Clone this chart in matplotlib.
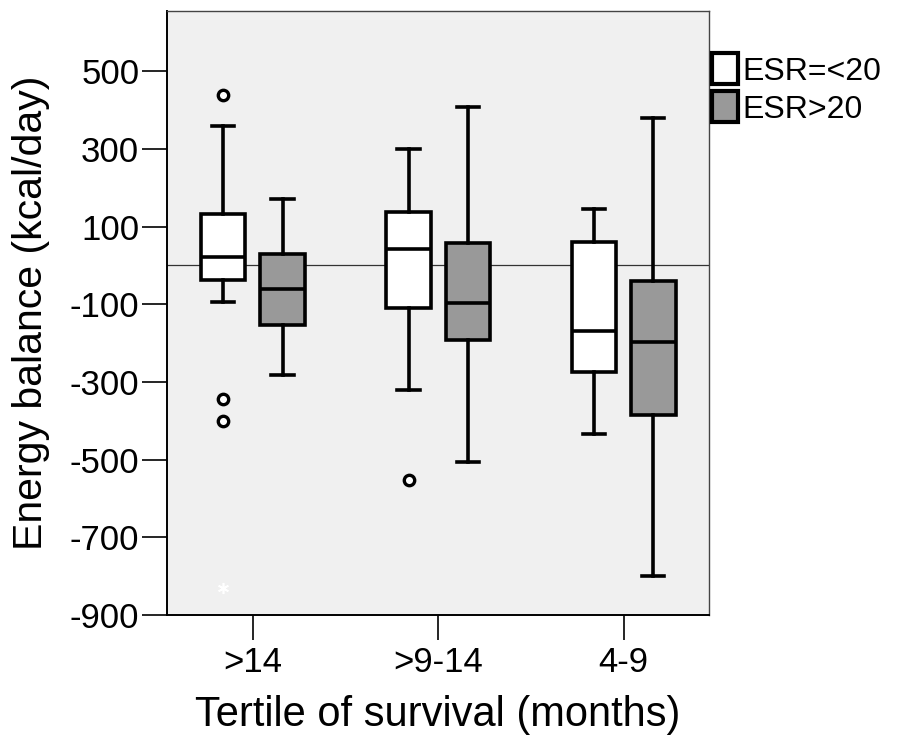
import matplotlib.pyplot as plt
import numpy as np

plt.rcParams['font.family'] = ['Liberation Sans', 'DejaVu Sans']
plt.rcParams['axes.unicode_minus'] = False

# data (kcal/day)
groups = [">14", ">9-14", "4-9"]
series = ["ESR=<20", "ESR>20"]

# five-number summaries: whislo, q1, med, q3, whishi
low_esr = [
    [-95, -37, 21, 132, 358],
    [-321, -109, 41, 137, 299],
    [-435, -274, -169, 59, 144],
]
high_esr = [
    [-283, -153, -61, 30, 172],
    [-506, -192, -97, 57, 408],
    [-800, -385, -198, -41, 380],
]
low_outliers = [[440, -343, -400], [-553], []]
high_outliers = [[], [], []]
extreme_low = [[-831], [], []]  # the faint white star

colors = ["white", "#999999"]
offset = 0.16
width = 0.24


def make_stats(rows, fliers):
    out = []
    for r, f in zip(rows, fliers):
        out.append(dict(whislo=r[0], q1=r[1], med=r[2], q3=r[3], whishi=r[4], fliers=f))
    return out


fig = plt.figure(figsize=(8.99, 7.38), dpi=100)
ax = fig.add_axes([0.1858, 0.1667, 0.6028, 0.8184])
ax.set_facecolor("#f0f0f0")

x = np.arange(len(groups))
lw = 2.6
for i, (rows, fl) in enumerate([(low_esr, low_outliers), (high_esr, high_outliers)]):
    pos = x + (i * 2 - 1) * offset
    ax.bxp(make_stats(rows, fl), positions=pos, widths=width, patch_artist=True,
           capwidths=width * 0.5,
           boxprops=dict(facecolor=colors[i], edgecolor="black", linewidth=lw),
           medianprops=dict(color="black", linewidth=lw),
           whiskerprops=dict(color="black", linewidth=lw),
           capprops=dict(color="black", linewidth=lw),
           flierprops=dict(marker="o", markerfacecolor="white", markeredgecolor="black",
                           markersize=7.5, markeredgewidth=2.4),
           manage_ticks=False, zorder=3)

for j, vals in enumerate(extreme_low):
    for v in vals:
        ax.plot(x[j] - offset, v, marker=(6, 2, 0), color="white", markersize=8,
                markeredgewidth=1.2, zorder=4)

ax.axhline(0, color="#333333", linewidth=0.9, zorder=2)

ax.set_xlim(-0.463, 2.46)
ax.set_ylim(-900, 655)
ax.set_yticks([500, 300, 100, -100, -300, -500, -700, -900])
ax.set_xticks(x)
ax.set_xticklabels(groups)
ax.tick_params(axis="both", labelsize=25, length=18, width=1.2, direction="out")
ax.tick_params(axis="x", pad=4)
ax.tick_params(axis="y", pad=2)

ax.set_ylabel("Energy balance (kcal/day)", fontsize=29.5, labelpad=14)
ax.set_xlabel("Tertile of survival (months)", fontsize=30, labelpad=12)

for s in ["left", "bottom"]:
    ax.spines[s].set_linewidth(1.4)
for s in ["top", "right"]:
    ax.spines[s].set_linewidth(1.0)
    ax.spines[s].set_color("#444444")

handles = [plt.Rectangle((0, 0), 1, 1, facecolor=c, edgecolor="black", linewidth=3) for c in colors]
ax.legend(handles, series, loc="upper left", bbox_to_anchor=(1.0, 0.935), frameon=False,
          fontsize=23, handlelength=0.8, handleheight=1.1, handletextpad=0.15,
          labelspacing=0.15, borderaxespad=0.0, borderpad=0.1)

fig.savefig("out.png", dpi=100)
